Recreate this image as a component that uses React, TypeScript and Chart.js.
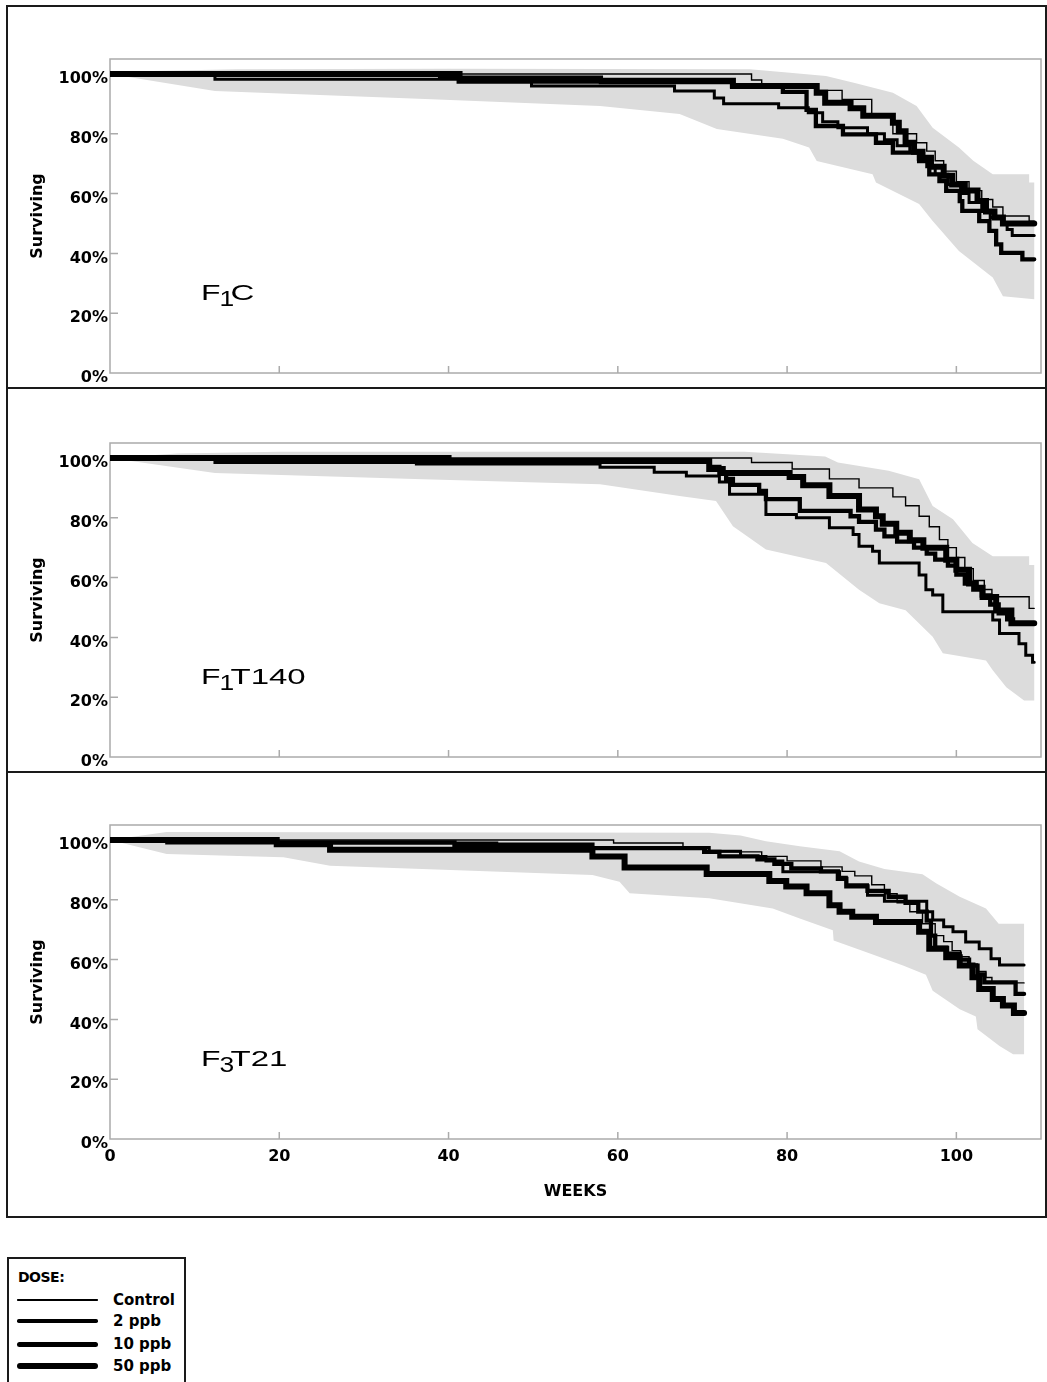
import React, { useEffect, useRef } from "react";
import { Chart, registerables } from "chart.js";
Chart.register(...registerables);

type Pt = [number, number];

const DOSES = ["Control", "2 ppb", "10 ppb", "50 ppb"];
const WEEK_TICKS = [0, 20, 40, 60, 80, 100];
const SURVIVAL_TICKS = [0, 20, 40, 60, 80, 100];
const WEEK_MAX = 110;
const PCT_MAX = 105;

// ---- Panel F1C ----
const F1C_CONTROL: Pt[] = [[0,100],[75.8,98],[77,96.3],[83.6,94.5],[86.5,91.5],[90,86],[92.5,80],[95.3,77],[96.5,74.2],[97.5,71],[98.5,67.5],[100,64],[101.5,61],[103,58],[104.3,55.5],[105.5,52.5],[108.6,50.8],[109.2,50.8]];
const F1C_2PPB: Pt[] = [[0,100],[12.4,98.2],[49.8,96],[66.7,94.3],[71.4,92],[72.5,90],[79,88.7],[82.5,87],[84.2,84],[86,82],[89.5,80],[91.5,78],[93,76],[94.5,74],[95.5,71.5],[96.5,69],[97.5,66.5],[99,63],[100.5,60],[101.5,57],[103,54],[104,52],[105.5,50],[106,48],[106.6,46],[109.2,46]];
const F1C_10PPB: Pt[] = [[0,100],[39,98.8],[58,97.3],[73.5,96],[79.5,94],[82.3,88],[83.4,82.6],[86.6,79.8],[90.5,77],[92.5,73.7],[95.6,70.9],[96.8,66.4],[98,64.2],[98.8,60.9],[100.4,57.5],[100.7,54.2],[102.7,50.8],[103.9,47.5],[104.7,43],[105.3,40.2],[107.8,38],[109.2,38]];
const F1C_50PPB: Pt[] = [[0,100],[41.3,97.7],[73.6,96],[83.5,93.7],[84.5,90.4],[87.5,88.5],[89,86],[92.5,83.7],[93.2,80.8],[94,77],[95,74],[96,72],[97,69],[98.5,66],[99.5,63],[101,61],[102.5,57.5],[103.5,54],[104.5,52],[105.5,50],[109.2,50]];
const F1C_BAND_UPPER: Pt[] = [[0,100],[5,101],[15,101.6],[40,101.7],[75.6,101.6],[80,100.5],[84.6,99.3],[88,97],[92.5,93.7],[95.3,89.3],[97.2,82],[100.3,75.4],[102,71],[104.3,66.5],[108.6,66.5],[108.6,63.7],[109.2,63.7]];
const F1C_BAND_LOWER: Pt[] = [[0,100],[12.4,94.3],[38,91.5],[57.9,89.3],[67.3,86.6],[71.7,81.6],[79.5,78.3],[82.6,75.4],[83.5,70.9],[90.1,66.5],[90.5,63.7],[95.6,56.5],[97.2,50.8],[100.3,40.8],[104.3,31.9],[105.5,25.7],[109.2,24.7]];

// ---- Panel F1T140 ----
const F1T140_CONTROL: Pt[] = [[0,100],[75.8,98.5],[80.6,96.3],[85,93],[88.5,90],[92.5,87],[94,84],[95.6,80.5],[96.8,77],[98,72.7],[99,70],[100,66.7],[101,63],[102,59],[103.3,56],[104.2,53.6],[108.6,49.7],[109.2,49.7]];
const F1T140_2PPB: Pt[] = [[0,100],[12.4,98.5],[36.2,98],[57.9,96.9],[64.3,95.2],[68.1,94],[72,92],[73.2,87.9],[77.5,81.1],[81.1,80],[85,76.7],[87.8,74.4],[88.5,70.5],[90.1,68.8],[90.9,64.9],[95.6,60.9],[96.4,55.9],[97.2,54.2],[98.4,48.6],[104.3,45.8],[105.1,41.3],[107.4,37.9],[108.2,34],[109,31.7],[109.2,31.7]];
const F1T140_10PPB: Pt[] = [[0,100],[36.2,98.8],[70.8,97],[72,95],[72.8,93],[73.6,91],[76.7,89],[77.5,86.2],[81.5,82.3],[87.5,80.5],[88.5,78.6],[90.5,76],[91.5,73.8],[93,72],[95,70],[96.5,68],[97.5,66],[99,64],[100,61],[101,58],[102,56],[103,54],[104,51],[105,48],[106,46],[106.7,44.7],[109.2,44.7]];
const F1T140_50PPB: Pt[] = [[0,100],[40,99],[70.8,96.3],[72.4,95],[80.3,93.6],[81.9,90.9],[85,87.3],[88.5,82.8],[90.5,80.5],[91.3,78],[92.9,75],[94.5,72.5],[96.1,70],[98.8,66],[100,62.6],[101.5,58],[102.3,56.6],[103.1,53.5],[104.7,49],[106.5,44.7],[109.2,44.7]];
const F1T140_BAND_UPPER: Pt[] = [[0,100],[8,101.5],[20,102.1],[75,102.1],[84.5,100.5],[86,98.5],[92,95.7],[95.6,92.9],[97.2,83.9],[99.6,79.5],[101.9,71.6],[104.3,67.1],[108.6,67.1],[108.6,64.2],[109.2,64.2]];
const F1T140_BAND_LOWER: Pt[] = [[0,100],[12.4,95],[36,93],[57.9,91.2],[67.3,87.3],[71.6,85.6],[73.6,77.2],[77.5,69.4],[84.6,64.9],[88.5,55.9],[90.9,51.4],[94,49.1],[97.2,40.2],[98.4,34.7],[103.5,32.3],[104.3,29],[105.9,23.3],[108,18.9],[109.2,18.9]];

// ---- Panel F3T21 ----
const F3T21_CONTROL: Pt[] = [[0,100],[59.5,99],[67.7,97.5],[70.5,96],[77,94.5],[80,93],[84,91],[86.5,89.5],[88,88],[90,85],[91.5,82],[93,79],[94.5,76],[96,72],[97.5,68],[98.5,66],[99.5,63],[100.5,61],[101.5,58.5],[102.5,56],[103.5,54],[104.2,52.2],[108,52.2]];
const F3T21_2PPB: Pt[] = [[0,100],[6.7,99],[45.7,98.2],[57,97.5],[70.8,96.2],[74.5,94.5],[77.5,93],[79.5,89.4],[86.2,87.5],[87,85],[89.5,81.5],[91.5,79.5],[96.5,76],[97.2,73.2],[98.5,71],[99.6,69.3],[101.1,65.9],[102.7,63.6],[104.1,60.3],[105.1,58.2],[108,58.2]];
const F3T21_10PPB: Pt[] = [[0,100],[19.7,99.2],[40.7,98.4],[57,97.3],[70.2,96],[72,94.5],[76.5,93.5],[78.5,92],[80.5,90.5],[84,89.5],[86,87],[87,84.5],[89.5,83],[92,81],[94,79],[95.5,76],[96.5,73],[97,68],[97.5,64],[98.8,62],[100.4,60],[101.5,58],[102.5,55],[103.3,52.4],[107,48.5],[108,48.5]];
const F3T21_50PPB: Pt[] = [[0,100],[19.7,98.6],[26,96.7],[57,94.5],[60.8,90.8],[70.5,88.6],[77.9,86.3],[79.9,84.4],[82.3,82.2],[85,78.2],[86.2,76],[87.7,74.3],[90.5,72.6],[95.6,69.3],[96.8,63.6],[98.8,60.8],[100.4,58],[101.9,54.1],[102.7,50.2],[104.3,46.8],[105.5,44.6],[106.8,42.1],[108,42.1]];
const F3T21_BAND_UPPER: Pt[] = [[0,100],[6.7,102.7],[70.8,102.4],[74.5,101.5],[77.5,99.6],[81.5,97.9],[86.2,96.2],[88.5,92.8],[91.5,90.3],[96,88.5],[97.6,85.5],[100.4,81],[103.5,77.1],[105,72],[108,72]];
const F3T21_BAND_LOWER: Pt[] = [[0,100],[6.7,95.3],[20.5,94.2],[26,91.4],[57,88.3],[60.2,86],[61.4,82.2],[70.8,80.5],[78.3,77.1],[81.5,73.7],[85.4,69.8],[85.5,66.4],[89.3,62.5],[93.7,58],[96.4,54.9],[97.2,49.6],[100.4,43.4],[102.3,41],[102.5,36.7],[105.1,31.1],[106.7,28.3],[108,28.3]];

const LINE_WIDTHS = [1.4, 3, 4.3, 6];
const FONT = '"DejaVu Sans", sans-serif';

type PanelProps = {
  top: number;
  height: number;
  padTop: number;
  axisH: number;
  showX: boolean;
  label: [string, string, string];
  series: Pt[][];
  upper: Pt[];
  lower: Pt[];
};

function Panel(p: PanelProps) {
  const ref = useRef<HTMLCanvasElement>(null);
  useEffect(() => {
    const canvas = ref.current;
    if (!canvas) return;
    const toXY = (a: Pt[]) => a.map(([x, y]) => ({ x, y }));
    const band = [...toXY(p.upper), ...toXY([...p.lower].reverse())];
    const tickFont = { family: FONT, size: 16, weight: "bold" as const };
    const decor = {
      id: "decor",
      beforeDatasetsDraw(chart: any) {
        const { ctx, chartArea: a, scales } = chart;
        ctx.save();
        ctx.strokeStyle = "#ababab";
        ctx.lineWidth = 1.5;
        ctx.strokeRect(a.left, a.top, a.right - a.left, a.bottom - a.top);
        ctx.beginPath();
        for (const v of SURVIVAL_TICKS) {
          if (v === 0) continue;
          const y = scales.y.getPixelForValue(v);
          ctx.moveTo(a.left, y);
          ctx.lineTo(a.left + 8, y);
        }
        for (const v of WEEK_TICKS) {
          if (v === 0) continue;
          const x = scales.x.getPixelForValue(v);
          ctx.moveTo(x, a.bottom);
          ctx.lineTo(x, a.bottom - 7);
        }
        ctx.stroke();
        ctx.restore();
      },
      afterDraw(chart: any) {
        const { ctx, chartArea: a } = chart;
        ctx.save();
        ctx.fillStyle = "#000";
        ctx.font = '22px "Liberation Sans", Arial, sans-serif';
        ctx.textBaseline = "alphabetic";
        const base = a.top + 240.5;
        const draw = (t: string, x: number, y: number, sx: number) => {
          ctx.save();
          ctx.translate(x, y);
          ctx.scale(sx, 1);
          ctx.fillText(t, 0, 0);
          ctx.restore();
        };
        draw(p.label[0], a.left + 91, base, 1.45);
        draw(p.label[1], a.left + 109.5, base + 6.5, 1.2);
        draw(p.label[2], a.left + 120.5, base, 1.5);
        ctx.restore();
      },
    };
    const lineSets = p.series.map((s, i) => ({
      label: DOSES[i],
      data: toXY(s),
      borderColor: "#000",
      borderWidth: LINE_WIDTHS[i],
      stepped: "before" as const,
      fill: false,
      pointRadius: 0,
      borderCapStyle: "round" as const,
      borderJoinStyle: "miter" as const,
      order: i,
    }));
    const chart = new Chart(canvas, {
      type: "line",
      data: {
        datasets: [
          ...lineSets,
          {
            label: "band",
            data: band,
            borderWidth: 0,
            borderColor: "rgba(0,0,0,0)",
            backgroundColor: "#dcdcdc",
            fill: "shape" as any,
            pointRadius: 0,
            tension: 0,
            order: 10,
          },
        ] as any,
      },
      options: {
        animation: false,
        responsive: false,
        maintainAspectRatio: false,
        layout: { padding: { top: p.padTop, right: 4, left: 0, bottom: 0 } },
        plugins: { legend: { display: false }, tooltip: { enabled: false } },
        elements: { point: { radius: 0 } },
        scales: {
          x: {
            type: "linear",
            min: 0,
            max: WEEK_MAX,
            grid: { display: false, drawTicks: false },
            border: { display: false },
            afterBuildTicks: (s: any) => {
              s.ticks = WEEK_TICKS.map((v) => ({ value: v }));
            },
            ticks: {
              display: p.showX,
              padding: 8,
              font: tickFont,
              color: "#000",
              maxRotation: 0,
              autoSkip: false,
            },
            title: {
              display: p.showX,
              text: "WEEKS",
              font: tickFont,
              color: "#000",
              padding: { top: 0, bottom: 15 },
            },
            afterFit: (s: any) => {
              s.height = p.axisH;
            },
          },
          y: {
            type: "linear",
            min: 0,
            max: PCT_MAX,
            grid: { display: false, drawTicks: false },
            border: { display: false },
            afterBuildTicks: (s: any) => {
              s.ticks = SURVIVAL_TICKS.map((v) => ({ value: v }));
            },
            ticks: {
              padding: 2,
              labelOffset: 5,
              font: tickFont,
              color: "#000",
              callback: (v: any) => v + "%",
            },
            title: {
              display: true,
              text: "Surviving",
              font: tickFont,
              color: "#000",
              padding: { top: 20, bottom: 0 },
            },
            afterFit: (s: any) => {
              s.width = 102;
            },
          },
        },
      },
      plugins: [decor],
    } as any);
    return () => chart.destroy();
  }, []);
  return (
    <canvas
      ref={ref}
      width={1037}
      height={p.height}
      style={{ position: "absolute", left: 8, top: p.top, width: 1037, height: p.height, display: "block" }}
    />
  );
}

const legendText: React.CSSProperties = {
  position: "absolute",
  fontFamily: FONT,
  fontWeight: "bold",
  fontSize: 15,
  lineHeight: "20px",
  height: 20,
  color: "#000",
  whiteSpace: "nowrap",
};

export default function App() {
  const legendRows = [1300, 1321, 1344, 1366];
  const legendThick = [1.5, 3.5, 5, 6.5];
  return (
    <div style={{ position: "absolute", left: 0, top: 0, width: 1047, height: 1382, overflow: "hidden", background: "#fff" }}>
      <Panel
        top={7}
        height={380}
        padTop={52}
        axisH={14}
        showX={false}
        label={["F", "1", "C"]}
        series={[F1C_CONTROL, F1C_2PPB, F1C_10PPB, F1C_50PPB]}
        upper={F1C_BAND_UPPER}
        lower={F1C_BAND_LOWER}
      />
      <Panel
        top={389}
        height={381}
        padTop={54}
        axisH={13}
        showX={false}
        label={["F", "1", "T140"]}
        series={[F1T140_CONTROL, F1T140_2PPB, F1T140_10PPB, F1T140_50PPB]}
        upper={F1T140_BAND_UPPER}
        lower={F1T140_BAND_LOWER}
      />
      <Panel
        top={773}
        height={443}
        padTop={52}
        axisH={77}
        showX={true}
        label={["F", "3", "T21"]}
        series={[F3T21_CONTROL, F3T21_2PPB, F3T21_10PPB, F3T21_50PPB]}
        upper={F3T21_BAND_UPPER}
        lower={F3T21_BAND_LOWER}
      />
      {/* frame */}
      <div style={{ position: "absolute", left: 6, top: 5, width: 1041, height: 1213, border: "2px solid #1a1a1a", boxSizing: "border-box" }} />
      <div style={{ position: "absolute", left: 6, top: 387, width: 1041, height: 2, background: "#1a1a1a" }} />
      <div style={{ position: "absolute", left: 6, top: 771, width: 1041, height: 2, background: "#1a1a1a" }} />
      {/* legend */}
      <div style={{ position: "absolute", left: 7, top: 1257, width: 179, height: 125, borderTop: "2px solid #1a1a1a", borderLeft: "2px solid #1a1a1a", borderRight: "2px solid #1a1a1a", boxSizing: "border-box" }} />
      <div style={{ ...legendText, left: 18, top: 1267, fontSize: 14, letterSpacing: -0.5 }}>DOSE:</div>
      {DOSES.map((d, i) => (
        <React.Fragment key={d}>
          <div
            style={{
              position: "absolute",
              left: 17,
              top: legendRows[i] - legendThick[i] / 2,
              width: 81,
              height: legendThick[i],
              background: "#000",
              borderRadius: legendThick[i] / 2,
            }}
          />
          <div style={{ ...legendText, left: 113, top: legendRows[i] - 10 }}>{d}</div>
        </React.Fragment>
      ))}
    </div>
  );
}
